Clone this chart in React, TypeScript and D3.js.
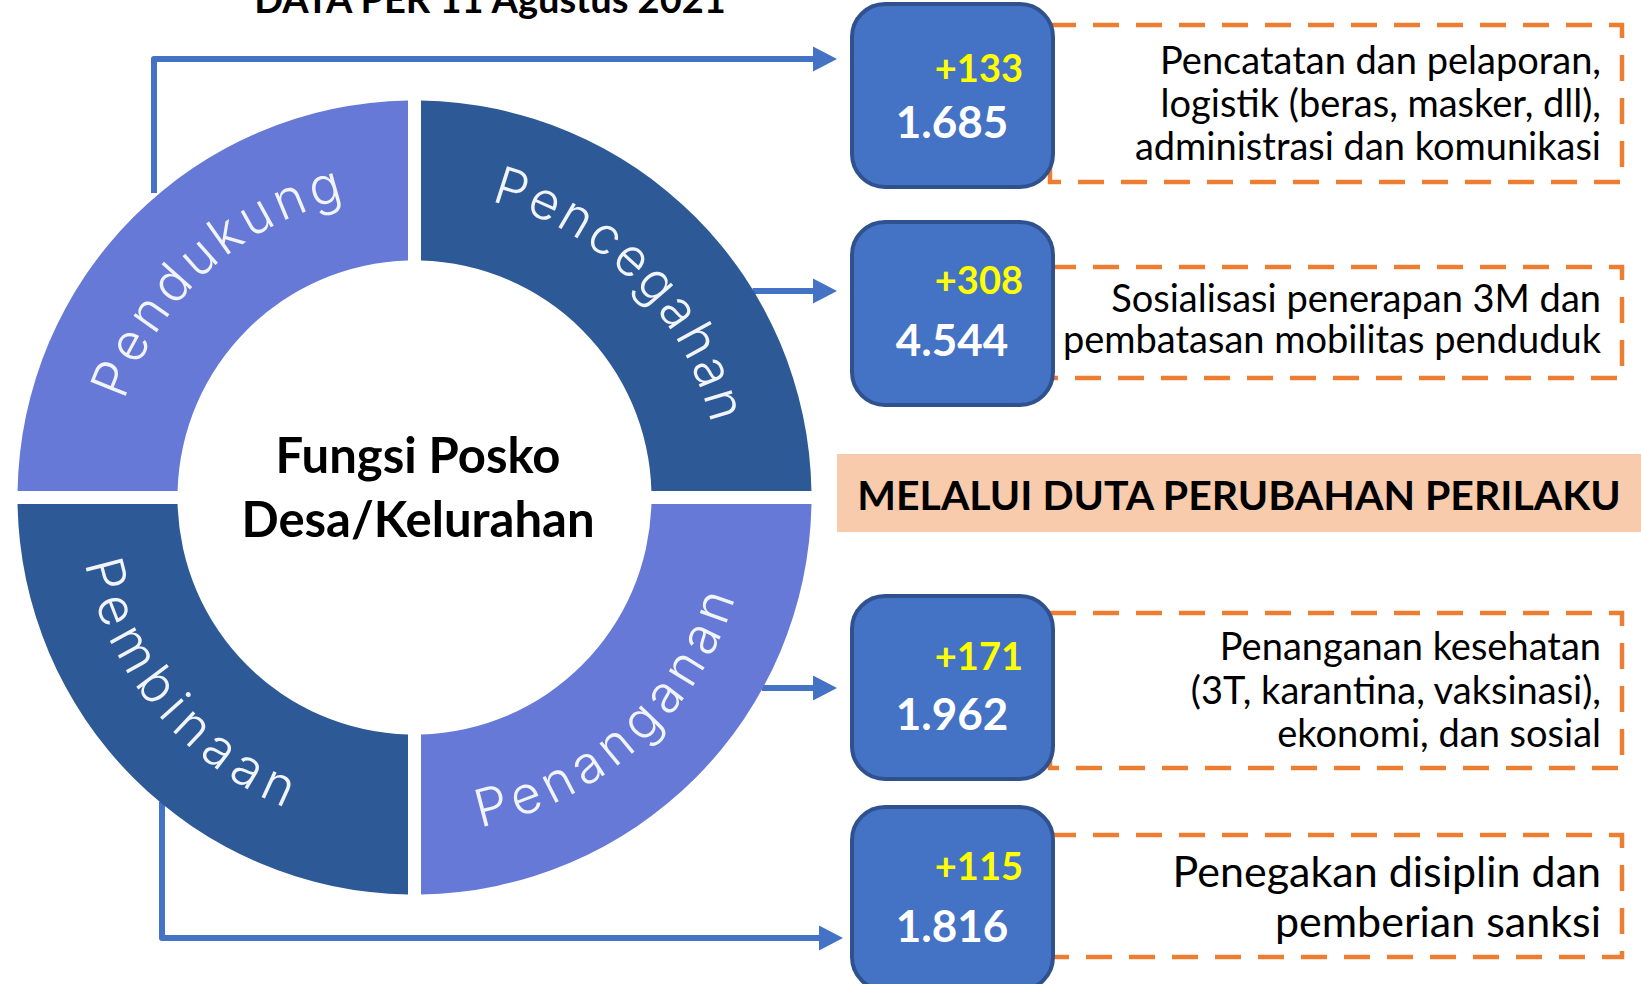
import React from 'react';
import * as d3 from 'd3';

// ---------- data ----------
const title = 'DATA PER 11 Agustus 2021';
const centerLines = ['Fungsi Posko', 'Desa/Kelurahan'];
const segmentNames = ['Pendukung', 'Pencegahan', 'Penanganan', 'Pembinaan'];
const segmentShares = [1, 1, 1, 1];
const segmentColors = ['#6679D6', '#2D5A96', '#6679D6', '#2D5A96'];
const totals = ['1.685', '4.544', '1.962', '1.816'];
const increments = [133, 308, 171, 115];
const descriptions = [
  ['Pencatatan dan pelaporan,', 'logistik (beras, masker, dll),', 'administrasi dan komunikasi'],
  ['Sosialisasi penerapan 3M dan', 'pembatasan mobilitas penduduk'],
  ['Penanganan kesehatan', '(3T, karantina, vaksinasi),', 'ekonomi, dan sosial'],
  ['Penegakan disiplin dan', 'pemberian sanksi'],
];
const bannerText = 'MELALUI DUTA PERUBAHAN PERILAKU';

// ---------- layout ----------
const W = 1641;
const H = 984;
const cx = 414.5;
const cy = 497.5;
const Rout = 397;
const Rin = 237;
const gap = 13;
const BLUE = '#4472C4';
const ORANGE = '#ED7D31';
const FONT = "Lato, 'Open Sans', sans-serif";
const ARC_FONT = "Inter, 'DejaVu Sans', sans-serif";
const labelSpacing = [4.5, 3, 6.5, 7.5];
const labelShiftDeg = [3, 0.5, 2.5, 5];

const boxX = 852;
const boxW = 201;
const boxH = 183;
const boxTops = [4, 222, 596, 807];
const dashBoxes = [
  [25, 182],
  [267, 378],
  [613, 768],
  [835, 957],
];
const dashLeft = 1050;
const dashRight = 1622;
const yellowBase = [82, 294, 670, 880];
const whiteBase = [138, 356, 730, 942];
const descFirst = [74, 311.5, 660, 887];
const descStep = [43, 41.5, 43.5, 50];
const descSize = [38, 38, 38, 43];
const descRight = 1601;
const connectorY = [59, 291, 688, 938];

export default function App() {
  const pie = d3.pie<number>().sort(null).startAngle(-Math.PI / 2).endAngle((3 * Math.PI) / 2);
  const slices = pie(segmentShares);
  const arc = d3
    .arc<d3.PieArcDatum<number>>()
    .innerRadius(Rin)
    .outerRadius(Rout)
    .padRadius(Rout)
    .padAngle(gap / Rout);

  const labelSpan = (80 * Math.PI) / 180;
  const labelPaths = slices.map((s, i) => {
    const mid = (s.startAngle + s.endAngle) / 2 + (labelShiftDeg[i] * Math.PI) / 180;
    const a = mid - Math.PI / 2;
    const top = Math.cos(mid) > 0;
    const p = d3.path();
    if (top) p.arc(cx, cy, 306, a - labelSpan, a + labelSpan, false);
    else p.arc(cx, cy, 336, a + labelSpan, a - labelSpan, true);
    return p.toString();
  });

  const ringX = (y: number) => cx + Math.sqrt(Rout * Rout - (y - cy) * (y - cy));
  const ringY = (x: number, sign: number) => cy + sign * Math.sqrt(Rout * Rout - (x - cx) * (x - cx));

  const headLen = 24;
  const headHalf = 12.5;
  const tipX = [837, 837, 837, 843];
  const leftX = [154, 162];

  const connectors = connectorY.map((y, i) => {
    const p = d3.path();
    const tip = tipX[i];
    if (i === 0) {
      p.moveTo(leftX[0], ringY(leftX[0], -1) - 5);
      p.lineTo(leftX[0], y);
      p.lineTo(tip - headLen + 2, y);
    } else if (i === 3) {
      p.moveTo(leftX[1], ringY(leftX[1], 1) - 2);
      p.lineTo(leftX[1], y);
      p.lineTo(tip - headLen + 2, y);
    } else {
      p.moveTo(ringX(y) - 1, y);
      p.lineTo(tip - headLen + 2, y);
    }
    const head = `M${tip - headLen},${y - headHalf}L${tip},${y}L${tip - headLen},${y + headHalf}Z`;
    return { line: p.toString(), head };
  });

  return (
    <svg
      width={W}
      height={H}
      viewBox={`0 0 ${W} ${H}`}
      style={{ position: 'absolute', left: 0, top: 0, background: '#fff' }}
    >
      <rect x={0} y={0} width={W} height={H} fill="#fff" />

      {/* title (cut at top, as in the source) */}
      <text x={490} y={13} textAnchor="middle" fontFamily={FONT} fontWeight={700} fontSize={38} fill="#000">
        {title}
      </text>

      {/* connectors */}
      {connectors.map((c, i) => (
        <g key={'c' + i}>
          <path d={c.line} fill="none" stroke={BLUE} strokeWidth={6} strokeLinejoin="round" />
          <path d={c.head} fill={BLUE} />
        </g>
      ))}

      {/* donut */}
      <g transform={`translate(${cx},${cy})`}>
        {slices.map((s, i) => (
          <path key={'s' + i} d={arc(s) || ''} fill={segmentColors[i]} />
        ))}
      </g>
      <defs>
        {labelPaths.map((d, i) => (
          <path key={'lp' + i} id={`lbl-path-${i}`} d={d} fill="none" />
        ))}
      </defs>
      {segmentNames.map((name, i) => (
        <text
          key={'l' + i}
          fontFamily={ARC_FONT}
          fontWeight={300}
          fontSize={52}
          letterSpacing={labelSpacing[i]}
          fill="#F2F4FC"
        >
          <textPath href={`#lbl-path-${i}`} startOffset="50%" textAnchor="middle">
            {name}
          </textPath>
        </text>
      ))}

      {/* center text */}
      {centerLines.map((t, i) => (
        <text
          key={'ct' + i}
          x={418}
          y={473 + i * 64}
          textAnchor="middle"
          fontFamily={FONT}
          fontWeight={700}
          fontSize={49}
          fill="#000"
        >
          {t}
        </text>
      ))}

      {/* banner */}
      <rect x={837} y={454} width={W - 837} height={78} fill="#F8CBAD" />
      <text
        x={(837 + W) / 2}
        y={510}
        textAnchor="middle"
        fontFamily={FONT}
        fontWeight={700}
        fontSize={41}
        fill="#000"
      >
        {bannerText}
      </text>

      {/* dashed description boxes */}
      {dashBoxes.map(([t, b], i) => (
        <rect
          key={'d' + i}
          x={dashLeft}
          y={t}
          width={dashRight - dashLeft}
          height={b - t}
          fill="none"
          stroke={ORANGE}
          strokeWidth={4.5}
          strokeDasharray="26 17"
        />
      ))}
      {descriptions.map((lines, i) =>
        lines.map((ln, j) => (
          <text
            key={`t${i}-${j}`}
            x={descRight}
            y={descFirst[i] + j * descStep[i]}
            textAnchor="end"
            fontFamily={FONT}
            fontWeight={400}
            fontSize={descSize[i]}
            fill="#000"
          >
            {ln}
          </text>
        ))
      )}

      {/* blue number boxes */}
      {boxTops.map((t, i) => (
        <g key={'b' + i}>
          <rect
            x={boxX}
            y={t}
            width={boxW}
            height={boxH}
            rx={33}
            ry={33}
            fill={BLUE}
            stroke="#2F528F"
            strokeWidth={4}
          />
          <text
            x={1023}
            y={yellowBase[i]}
            textAnchor="end"
            fontFamily={FONT}
            fontWeight={700}
            fontSize={38}
            fill="#FFFF00"
          >
            {'+' + increments[i]}
          </text>
          <text
            x={952}
            y={whiteBase[i]}
            textAnchor="middle"
            fontFamily={FONT}
            fontWeight={700}
            fontSize={44}
            fill="#FFFFFF"
          >
            {totals[i]}
          </text>
        </g>
      ))}
    </svg>
  );
}
